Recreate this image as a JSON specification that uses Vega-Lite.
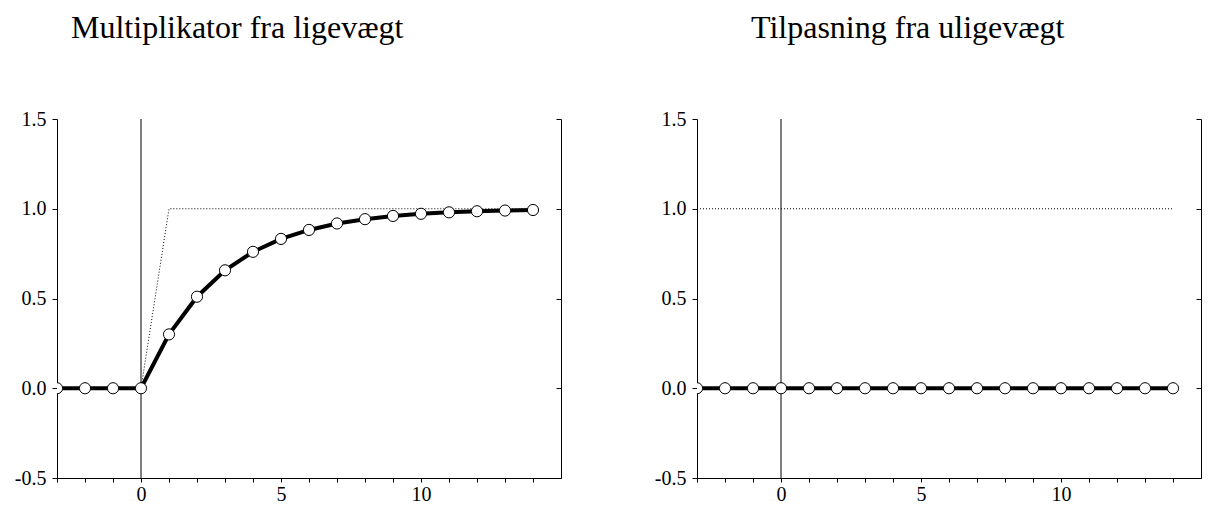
{
  "$schema": "https://vega.github.io/schema/vega-lite/v6.json",
  "padding": {"left": 14, "top": 12, "right": 2, "bottom": 2},
  "spacing": 92,
  "background": "white",
  "datasets": {
    "zero": [{"t": 0}],
    "sim1": [
      {"t": -3, "v": 0}, {"t": -2, "v": 0}, {"t": -1, "v": 0}, {"t": 0, "v": 0},
      {"t": 1, "v": 0.3}, {"t": 2, "v": 0.51}, {"t": 3, "v": 0.657}, {"t": 4, "v": 0.76},
      {"t": 5, "v": 0.832}, {"t": 6, "v": 0.882}, {"t": 7, "v": 0.918}, {"t": 8, "v": 0.942},
      {"t": 9, "v": 0.96}, {"t": 10, "v": 0.972}, {"t": 11, "v": 0.98}, {"t": 12, "v": 0.986},
      {"t": 13, "v": 0.99}, {"t": 14, "v": 0.993}
    ],
    "ref1": [{"t": -3, "v": 0}, {"t": 0, "v": 0}, {"t": 1, "v": 1}, {"t": 14, "v": 1}],
    "sim2": [
      {"t": -3, "v": 0}, {"t": -2, "v": 0}, {"t": -1, "v": 0}, {"t": 0, "v": 0},
      {"t": 1, "v": 0}, {"t": 2, "v": 0}, {"t": 3, "v": 0}, {"t": 4, "v": 0},
      {"t": 5, "v": 0}, {"t": 6, "v": 0}, {"t": 7, "v": 0}, {"t": 8, "v": 0},
      {"t": 9, "v": 0}, {"t": 10, "v": 0}, {"t": 11, "v": 0}, {"t": 12, "v": 0},
      {"t": 13, "v": 0}, {"t": 14, "v": 0}
    ],
    "ref2": [{"t": -3, "v": 1}, {"t": 14, "v": 1}]
  },
  "config": {
    "font": "Liberation Serif",
    "view": {"stroke": null},
    "axis": {
      "domainColor": "black", "domainWidth": 1, "tickColor": "black", "tickWidth": 1,
      "labelFont": "Liberation Serif", "labelFontSize": 20, "labelColor": "black",
      "grid": false, "title": null, "labelOverlap": false
    },
    "title": {"font": "Liberation Serif", "fontSize": 32, "fontWeight": "normal", "color": "black", "anchor": "start", "baseline": "alphabetic", "frame": "group"}
  },
  "hconcat": [
    {
      "width": 504, "height": 359,
      "title": {"text": "Multiplikator fra ligevægt", "dx": 14, "offset": 64},
      "resolve": {"axis": {"y": "independent"}},
      "layer": [
        {
          "data": {"name": "zero"},
          "mark": {"type": "rule", "color": "black", "strokeWidth": 1},
          "encoding": {
            "x": {"field": "t", "type": "quantitative", "scale": {"domain": [-3, 15], "nice": false, "zero": false},
                  "axis": {"values": [-3,-2,-1,0,1,2,3,4,5,6,7,8,9,10,11,12,13,14], "labelExpr": "datum.value % 5 === 0 ? datum.label : ''", "tickSize": 4, "labelPadding": 2, "labelFlush": false}}
          }
        },
        {
          "data": {"name": "ref1"},
          "mark": {"type": "line", "color": "black", "strokeWidth": 1, "strokeDash": [1, 2]},
          "encoding": {
            "x": {"field": "t", "type": "quantitative", "scale": {"domain": [-3, 15], "nice": false, "zero": false},
                  "axis": {"values": [-3,-2,-1,0,1,2,3,4,5,6,7,8,9,10,11,12,13,14], "labelExpr": "datum.value % 5 === 0 ? datum.label : ''", "tickSize": 4, "labelPadding": 2, "labelFlush": false}},
            "y": {"field": "v", "type": "quantitative", "scale": {"domain": [-0.5, 1.5], "nice": false},
                  "axis": {"orient": "left", "values": [-0.5, 0, 0.5, 1, 1.5], "format": ".1f", "labelExpr": "replace(datum.label, '−', '-')", "tickSize": 5, "labelPadding": 6}}
          }
        },
        {
          "data": {"name": "sim1"},
          "mark": {"type": "line", "color": "black", "strokeWidth": 4, "clip": true},
          "encoding": {
            "x": {"field": "t", "type": "quantitative", "scale": {"domain": [-3, 15], "nice": false, "zero": false},
                  "axis": {"values": [-3,-2,-1,0,1,2,3,4,5,6,7,8,9,10,11,12,13,14], "labelExpr": "datum.value % 5 === 0 ? datum.label : ''", "tickSize": 4, "labelPadding": 2, "labelFlush": false}},
            "y": {"field": "v", "type": "quantitative", "scale": {"domain": [-0.5, 1.5], "nice": false}, "axis": null}
          }
        },
        {
          "data": {"name": "sim1"},
          "mark": {"type": "point", "shape": "circle", "filled": true, "fill": "white", "stroke": "black", "strokeWidth": 1, "size": 125, "opacity": 1, "clip": true},
          "encoding": {
            "x": {"field": "t", "type": "quantitative", "scale": {"domain": [-3, 15], "nice": false, "zero": false},
                  "axis": {"values": [-3,-2,-1,0,1,2,3,4,5,6,7,8,9,10,11,12,13,14], "labelExpr": "datum.value % 5 === 0 ? datum.label : ''", "tickSize": 4, "labelPadding": 2, "labelFlush": false}},
            "y": {"field": "v", "type": "quantitative", "scale": {"domain": [-0.5, 1.5], "nice": false},
                  "axis": {"orient": "right", "values": [-0.5, 0, 0.5, 1, 1.5], "labels": false, "tickSize": -5}}
          }
        }
      ]
    },
    {
      "width": 504, "height": 359,
      "title": {"text": "Tilpasning fra uligevægt", "dx": 54, "offset": 64},
      "resolve": {"axis": {"y": "independent"}},
      "layer": [
        {
          "data": {"name": "zero"},
          "mark": {"type": "rule", "color": "black", "strokeWidth": 1},
          "encoding": {
            "x": {"field": "t", "type": "quantitative", "scale": {"domain": [-3, 15], "nice": false, "zero": false},
                  "axis": {"values": [-3,-2,-1,0,1,2,3,4,5,6,7,8,9,10,11,12,13,14], "labelExpr": "datum.value % 5 === 0 ? datum.label : ''", "tickSize": 4, "labelPadding": 2, "labelFlush": false}}
          }
        },
        {
          "data": {"name": "ref2"},
          "mark": {"type": "line", "color": "black", "strokeWidth": 1, "strokeDash": [1, 2]},
          "encoding": {
            "x": {"field": "t", "type": "quantitative", "scale": {"domain": [-3, 15], "nice": false, "zero": false},
                  "axis": {"values": [-3,-2,-1,0,1,2,3,4,5,6,7,8,9,10,11,12,13,14], "labelExpr": "datum.value % 5 === 0 ? datum.label : ''", "tickSize": 4, "labelPadding": 2, "labelFlush": false}},
            "y": {"field": "v", "type": "quantitative", "scale": {"domain": [-0.5, 1.5], "nice": false},
                  "axis": {"orient": "left", "values": [-0.5, 0, 0.5, 1, 1.5], "format": ".1f", "labelExpr": "replace(datum.label, '−', '-')", "tickSize": 5, "labelPadding": 6}}
          }
        },
        {
          "data": {"name": "sim2"},
          "mark": {"type": "line", "color": "black", "strokeWidth": 4, "clip": true},
          "encoding": {
            "x": {"field": "t", "type": "quantitative", "scale": {"domain": [-3, 15], "nice": false, "zero": false},
                  "axis": {"values": [-3,-2,-1,0,1,2,3,4,5,6,7,8,9,10,11,12,13,14], "labelExpr": "datum.value % 5 === 0 ? datum.label : ''", "tickSize": 4, "labelPadding": 2, "labelFlush": false}},
            "y": {"field": "v", "type": "quantitative", "scale": {"domain": [-0.5, 1.5], "nice": false}, "axis": null}
          }
        },
        {
          "data": {"name": "sim2"},
          "mark": {"type": "point", "shape": "circle", "filled": true, "fill": "white", "stroke": "black", "strokeWidth": 1, "size": 125, "opacity": 1, "clip": true},
          "encoding": {
            "x": {"field": "t", "type": "quantitative", "scale": {"domain": [-3, 15], "nice": false, "zero": false},
                  "axis": {"values": [-3,-2,-1,0,1,2,3,4,5,6,7,8,9,10,11,12,13,14], "labelExpr": "datum.value % 5 === 0 ? datum.label : ''", "tickSize": 4, "labelPadding": 2, "labelFlush": false}},
            "y": {"field": "v", "type": "quantitative", "scale": {"domain": [-0.5, 1.5], "nice": false},
                  "axis": {"orient": "right", "values": [-0.5, 0, 0.5, 1, 1.5], "labels": false, "tickSize": -5}}
          }
        }
      ]
    }
  ]
}
